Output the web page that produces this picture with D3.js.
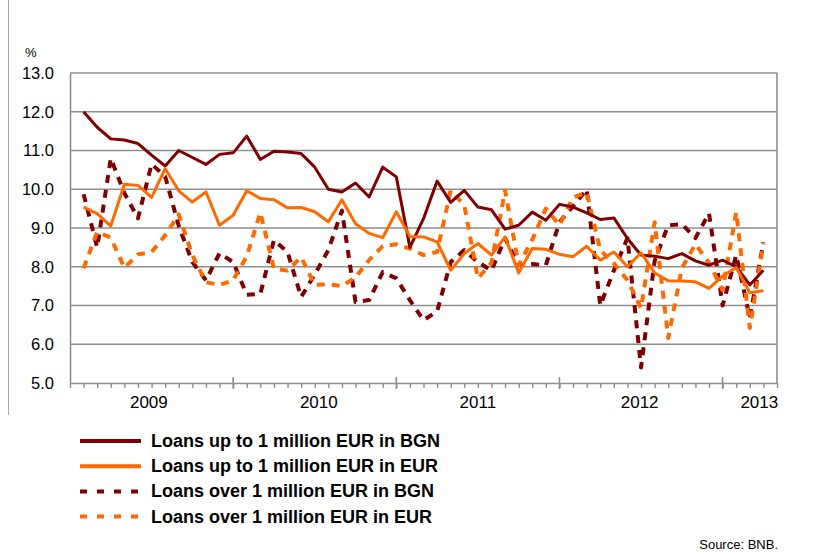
<!DOCTYPE html>
<meta charset="utf-8">
<script src="https://cdn.jsdelivr.net/npm/d3@7"></script>
<style>
  body { margin: 0; background: #fff; }
  text { font-family: Arial, "Liberation Sans", sans-serif; }
</style>
<div id="chart"></div>
<script>

// monthly observations, Feb 2009 .. Apr 2013 (month index 1 = Feb 2009)
var firstMonth = 1;

var bgnUpTo1m = [12.0, 11.6, 11.3, 11.27, 11.18, 10.88, 10.6, 11.0, 10.82, 10.64, 10.9, 10.94,
  11.37, 10.77, 10.98, 10.96, 10.92, 10.57, 10.0, 9.93, 10.16, 9.8, 10.57, 10.32,
  8.5, 9.24, 10.21, 9.66, 9.97, 9.54, 9.47, 8.97, 9.07, 9.41, 9.2, 9.61,
  9.54, 9.39, 9.22, 9.26, 8.73, 8.3, 8.27, 8.21, 8.34, 8.15, 8.04, 8.17,
  8.0, 7.53, 7.91];

var eurUpTo1m = [9.54, 9.37, 9.05, 10.13, 10.1, 9.79, 10.53, 9.96, 9.67, 9.93, 9.07, 9.33,
  9.96, 9.76, 9.73, 9.52, 9.53, 9.42, 9.16, 9.73, 9.11, 8.86, 8.75, 9.42,
  8.78, 8.77, 8.64, 7.91, 8.34, 8.6, 8.3, 8.77, 7.84, 8.47, 8.45, 8.32,
  8.26, 8.53, 8.17, 8.38, 8.0, 8.36, 7.84, 7.64, 7.63, 7.61, 7.44, 7.76,
  7.98, 7.33, 7.38];

var bgnOver1m = [9.87, 8.5, 10.8, 9.9, 9.25, 10.65, 10.33, 9.05, 8.12, 7.65, 8.35, 8.12,
  7.28, 7.3, 8.69, 8.38, 7.22, 7.8, 8.43, 9.45, 7.09, 7.14, 7.86, 7.7,
  7.14, 6.62, 6.85, 8.12, 8.43, 8.12, 7.9, 8.74, 8.04, 8.07, 8.04, 9.15,
  9.56, 10.0, 7.0, 7.9, 8.74, 5.4, 8.15, 9.07, 9.1, 8.74, 9.38, 7.0,
  8.3, 6.68, 8.63];

var eurOver1m = [7.96, 8.9, 8.75, 7.97, 8.32, 8.38, 8.81, 9.35, 8.3, 7.6, 7.53, 7.65,
  8.27, 9.4, 7.95, 7.9, 8.25, 7.53, 7.55, 7.5, 7.73, 8.17, 8.53, 8.58,
  8.47, 8.3, 8.38, 9.97, 9.59, 7.7, 8.1, 9.97, 8.04, 8.7, 9.5, 9.07,
  9.79, 9.92, 8.43, 8.09, 7.65, 6.93, 9.15, 6.16, 7.96, 8.58, 8.1, 7.4,
  9.41, 6.42, 8.6];

var seriesNames = ["Loans up to 1 million EUR in BGN", "Loans up to 1 million EUR in EUR",
  "Loans over 1 million EUR in BGN", "Loans over 1 million EUR in EUR"];

var years = ["2009", "2010", "2011", "2012", "2013"];
// where each year label sits, in month units
var yearLabelAt = [5.8, 18.3, 30.0, 41.9, 50.7];
var yearStarts = [12, 24, 36, 48];
var totalMonths = 52;

var yTicks = [5, 6, 7, 8, 9, 10, 11, 12, 13];

var series = [
  {name: seriesNames[0], values: bgnUpTo1m, color: "#800000", dash: null, width: 3},
  {name: seriesNames[1], values: eurUpTo1m, color: "#ff6a00", dash: null, width: 3},
  {name: seriesNames[2], values: bgnOver1m, color: "#800000", dash: "8,7", width: 4},
  {name: seriesNames[3], values: eurOver1m, color: "#ff6a00", dash: "8,7", width: 4}
];

var W = 815, H = 552;
var margin = {top: 73, right: 38, bottom: 169, left: 70},
    width = W - margin.left - margin.right,
    height = H - margin.top - margin.bottom;

var svg = d3.select("#chart")
  .append("svg")
    .attr("width", W)
    .attr("height", H);

// thin page border on the left
svg.append("line")
  .attr("x1", 8.5).attr("x2", 8.5)
  .attr("y1", 0).attr("y2", 415)
  .attr("stroke", "#a6a6a6")
  .attr("stroke-width", 1);

var g = svg.append("g")
  .attr("transform", "translate(" + margin.left + "," + margin.top + ")");

var x = d3.scaleLinear()
  .domain([0, totalMonths])
  .range([0, width]);

var y = d3.scaleLinear()
  .domain([5, 13])
  .range([height, 0]);

var gridColor = "#8e8e8e";

// horizontal gridlines
g.selectAll(".grid")
  .data(yTicks.slice(1))
  .enter().append("line")
    .attr("x1", 0).attr("x2", width)
    .attr("y1", function(d) { return y(d); })
    .attr("y2", function(d) { return y(d); })
    .attr("stroke", gridColor)
    .attr("stroke-width", 1.6);

// right border of plot
g.append("line")
  .attr("x1", width).attr("x2", width)
  .attr("y1", 0).attr("y2", height)
  .attr("stroke", gridColor)
  .attr("stroke-width", 1.6);

// Y axis
var yAxis = g.append("g")
  .call(d3.axisLeft(y).tickValues(yTicks).tickSize(0).tickPadding(16)
    .tickFormat(d3.format(".1f")));
yAxis.select(".domain").attr("stroke", gridColor).attr("stroke-width", 1.6);
yAxis.selectAll("text")
  .attr("font-size", "16.5px")
  .attr("fill", "#000")
  .attr("font-family", "Arial, 'Liberation Sans', sans-serif");

g.append("text")
  .attr("x", -45)
  .attr("y", -16)
  .attr("font-size", "13px")
  .text("%");

// X axis with monthly minor ticks
var xAxis = g.append("g")
  .attr("transform", "translate(0," + height + ")")
  .call(d3.axisBottom(x).tickValues(d3.range(0, totalMonths + 1)).tickSize(5)
    .tickSizeOuter(0).tickFormat(""));
xAxis.select(".domain").attr("stroke", gridColor).attr("stroke-width", 1.6);
xAxis.selectAll(".tick line").attr("stroke", gridColor).attr("stroke-width", 1.4);

// year boundaries: longer ticks through the axis
g.selectAll(".major")
  .data(yearStarts)
  .enter().append("line")
    .attr("x1", function(d) { return x(d); })
    .attr("x2", function(d) { return x(d); })
    .attr("y1", height - 6)
    .attr("y2", height + 6)
    .attr("stroke", gridColor)
    .attr("stroke-width", 1.6);

g.selectAll(".year")
  .data(years)
  .enter().append("text")
    .attr("x", function(d, i) { return x(yearLabelAt[i]); })
    .attr("y", height + 25)
    .attr("text-anchor", "middle")
    .attr("font-size", "17px")
    .text(function(d) { return d; });

// lines
var line = d3.line()
  .x(function(d, i) { return x(firstMonth + i); })
  .y(function(d) { return y(d); });

// draw dashed first so the solid lines read on top where they cross
var drawOrder = [2, 3, 0, 1];
drawOrder.forEach(function(k) {
  var s = series[k];
  g.append("path")
    .datum(s.values)
    .attr("fill", "none")
    .attr("stroke", s.color)
    .attr("stroke-width", s.width)
    .attr("stroke-dasharray", s.dash)
    .attr("stroke-linejoin", "round")
    .attr("d", line);
});

// legend
var legend = svg.append("g")
  .attr("transform", "translate(80,441)");

var rows = legend.selectAll("g")
  .data(series)
  .enter().append("g")
    .attr("transform", function(d, i) { return "translate(0," + (i * 25.2) + ")"; });

rows.append("line")
  .attr("x1", 0).attr("x2", 61)
  .attr("y1", 0).attr("y2", 0)
  .attr("stroke", function(d) { return d.color; })
  .attr("stroke-width", 4)
  .attr("stroke-dasharray", function(d) { return d.dash ? "7,10" : null; });

rows.append("text")
  .attr("x", 71)
  .attr("y", 6)
  .attr("font-size", "18px")
  .attr("font-weight", "bold")
  .text(function(d) { return d.name; });

svg.append("text")
  .attr("x", 778)
  .attr("y", 549)
  .attr("text-anchor", "end")
  .attr("font-size", "13px")
  .text("Source: BNB.");

</script>
